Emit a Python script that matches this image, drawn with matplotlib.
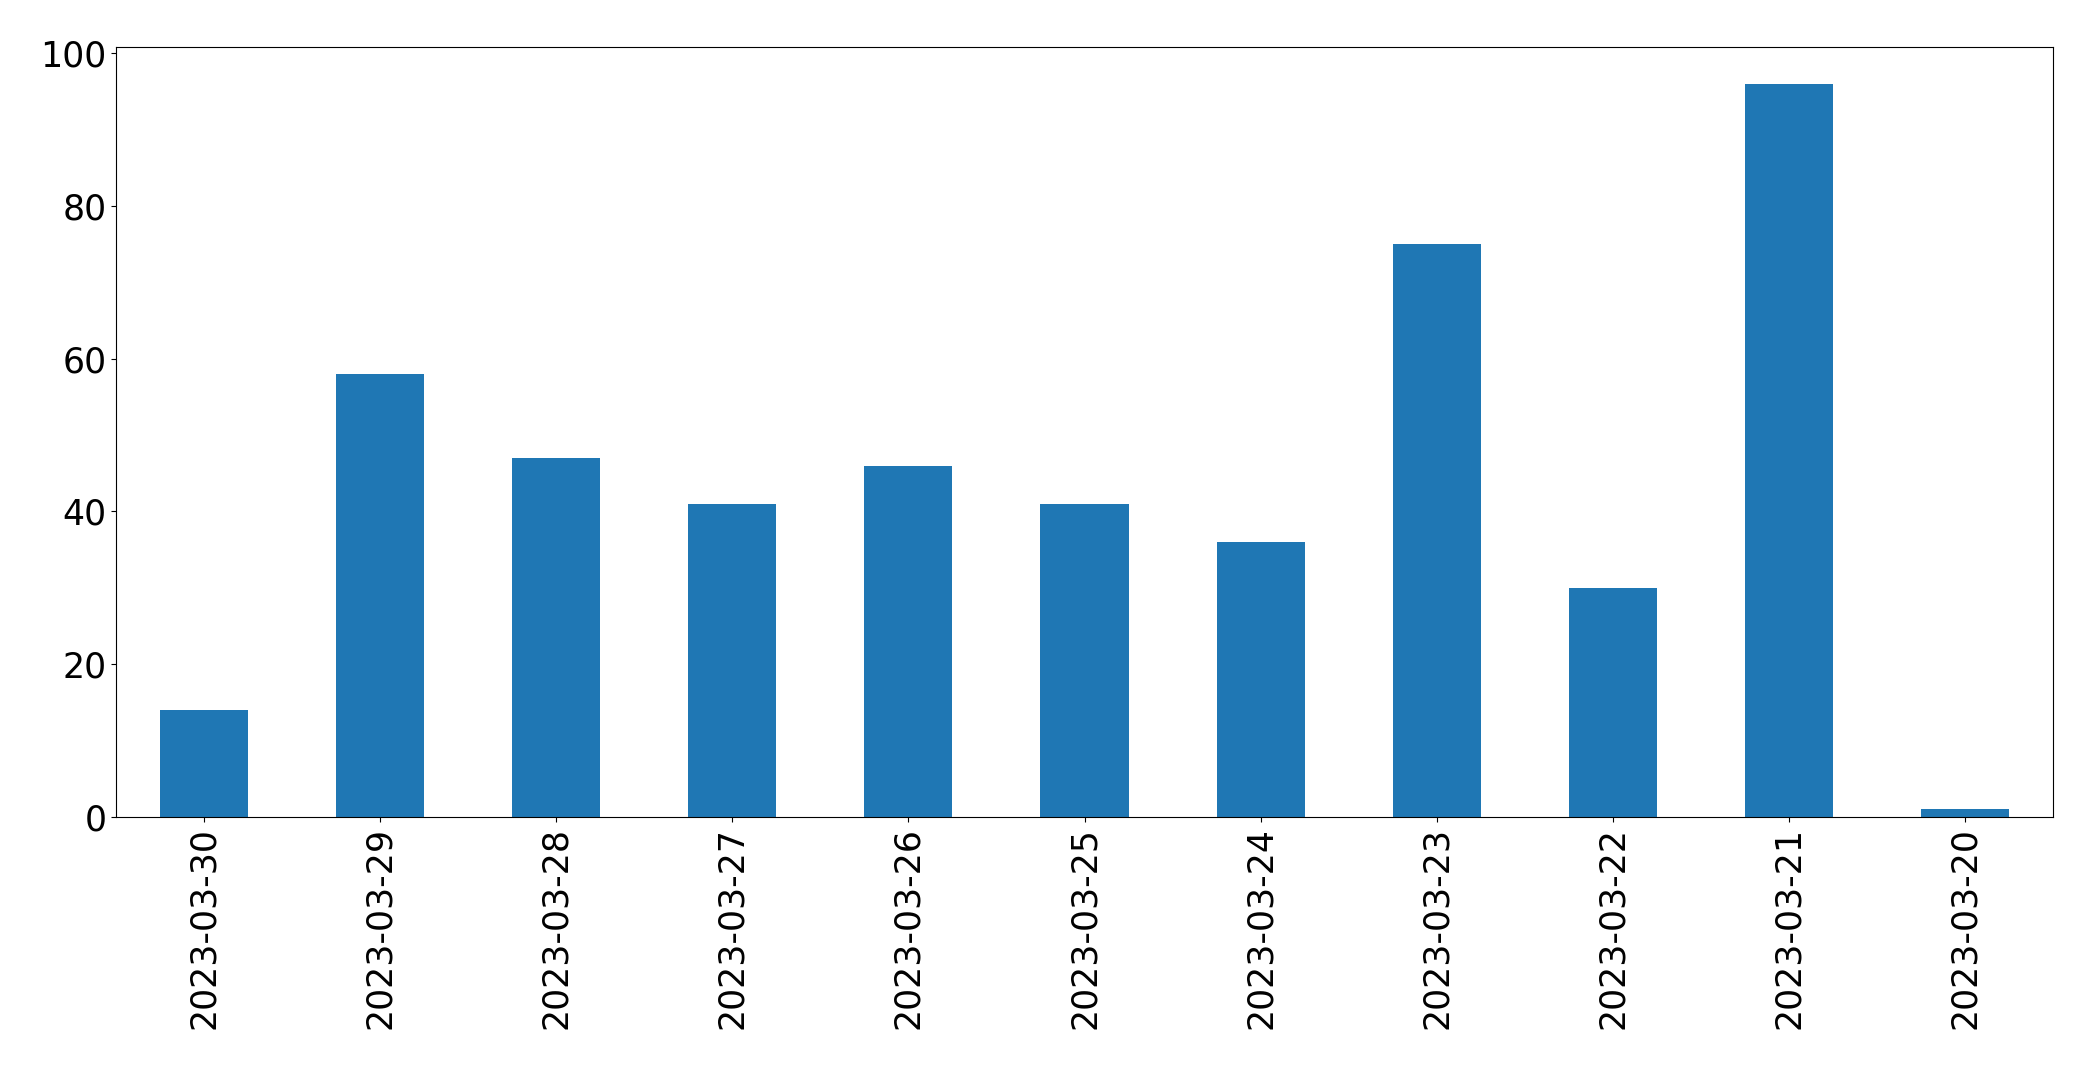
import matplotlib
matplotlib.use("Agg")
import matplotlib.pyplot as plt
import numpy as np

dates = ["2023-03-30", "2023-03-29", "2023-03-28", "2023-03-27", "2023-03-26",
         "2023-03-25", "2023-03-24", "2023-03-23", "2023-03-22", "2023-03-21",
         "2023-03-20"]
counts = [14, 58, 47, 41, 46, 41, 36, 75, 30, 96, 1]

W, H = 2093, 1069
fig = plt.figure(figsize=(W / 100, H / 100), dpi=100)
ax = fig.add_axes([116 / W, 1 - 817 / H, (2053 - 116) / W, (817 - 47) / H])

x = np.arange(len(dates))
ax.bar(x, counts, width=0.5, color="#1f77b4")
ax.set_xlim(-0.5, len(dates) - 0.5)
ax.set_xticks(x)
ax.set_xticklabels(dates, rotation=90, fontsize=25)
ax.tick_params(axis="y", labelsize=25)

fig.savefig("out.png", dpi=100)
